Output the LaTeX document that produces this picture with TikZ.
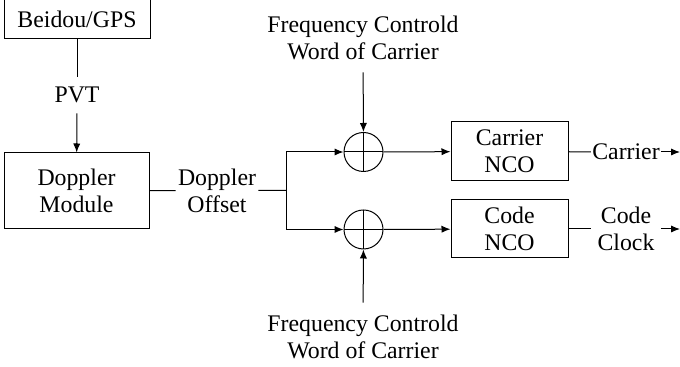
\documentclass[tikz,border=0pt]{standalone}
\usepackage{fontspec}
\setmainfont{Liberation Serif}
\usetikzlibrary{shapes,arrows.meta,positioning}
\tikzstyle{line} = [draw, -{Latex[length=4.5pt,width=3.6pt]}]
\tikzstyle{block} = [draw, rectangle, inner sep=0pt, align=center]
\tikzstyle{sum} = [draw, circle, minimum size=19.5pt, inner sep=0pt,
  path picture={\draw (path picture bounding box.north) -- (path picture bounding box.south)
    (path picture bounding box.west) -- (path picture bounding box.east);}]
\tikzstyle{lbl} = [inner sep=1pt, align=center]

\begin{document}
\begin{tikzpicture}[x=0.5pt, y=-0.5pt, line width=0.5pt,
    font=\fontsize{11.9}{13.5}\selectfont]
    \useasboundingbox (0,0) rectangle (680,367);
    % Place nodes
    \node [block, minimum width=73pt, minimum height=19.5pt] (gps) at (77,19.5) {Beidou/GPS};
    \node [lbl, inner ysep=5pt] (pvt) at (77,95) {PVT};
    \node [block, minimum width=72.5pt, minimum height=38pt] (dop) at (76.5,191) {Doppler\\Module};
    \node [lbl] (offset) at (217,190.5) {Doppler\\Offset};
    \coordinate (split) at (286,190.5);
    \coordinate (splitup) at (286,152);
    \coordinate (splitdn) at (286,229.5);
    \node [sum] (sum1) at (363.5,152) {};
    \node [sum] (sum2) at (363.5,229.5) {};
    \node [lbl, inner ysep=6pt] (fcw1) at (363,38) {Frequency Controld\\Word of Carrier};
    \node [lbl, inner ysep=6pt] (fcw2) at (363,337) {Frequency Controld\\Word of Carrier};
    \node [block, minimum width=58.5pt, minimum height=29.5pt] (cnco) at (509.5,151.5) {Carrier\\NCO};
    \node [block, minimum width=58.5pt, minimum height=29pt] (knco) at (509.5,229) {Code\\NCO};
    \node [lbl, inner sep=0.5pt] (carrier) at (626,152) {Carrier};
    \node [lbl, inner sep=3pt] (clock) at (626,229) {Code\\Clock};
    \coordinate (carrierout) at (680,152);
    \coordinate (clockout) at (680,229);

    % Draw edges
    \draw (gps) -- (pvt);
    \path [line] (pvt) -- (dop);
    \draw (dop) -- (offset) -- (split);
    \draw (splitup) -- (splitdn);
    \path [line] (splitup) -- (sum1);
    \path [line] (splitdn) -- (sum2);
    \path [line] (fcw1) -- (sum1);
    \path [line] (fcw2) -- (sum2);
    \path [line] (sum1) -- (cnco);
    \path [line] (sum2) -- (knco);
    \draw (cnco) -- (carrier);
    \path [line] (carrier) -- (carrierout);
    \draw (knco) -- (knco -| clock.west);
    \path [line] (clock.east |- knco) -- (clockout);
\end{tikzpicture}
\end{document}
